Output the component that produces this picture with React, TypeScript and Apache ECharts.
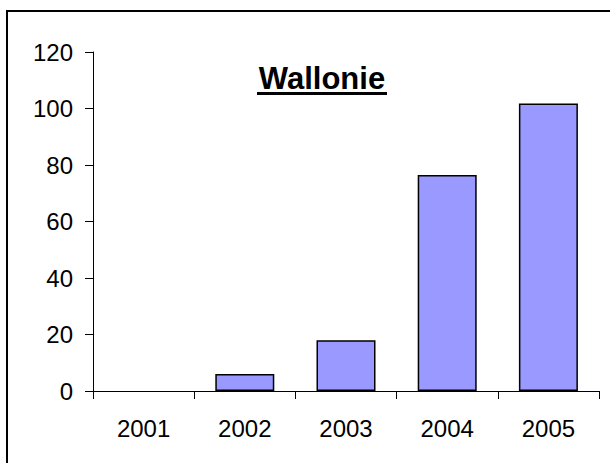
import React, { useEffect, useRef } from "react";
import * as echarts from "echarts";

const categories = ["2001", "2002", "2003", "2004", "2005"];
const values = [0, 6, 18, 76.5, 101.8];
const yTicks = { min: 0, max: 120, interval: 20 };
const titleText = "Wallonie";

export default function App() {
  const ref = useRef<HTMLDivElement>(null);
  useEffect(() => {
    if (!ref.current) return;
    const chart = echarts.init(ref.current, undefined, { renderer: "svg" });
    const font = "Arial, 'Liberation Sans', sans-serif";
    chart.setOption({
      animation: false,
      backgroundColor: "#ffffff",
      grid: { left: 93, right: 11, top: 52, bottom: 72, containLabel: false },
      xAxis: {
        type: "category",
        data: categories,
        axisLine: { lineStyle: { color: "#000", width: 1 } },
        axisTick: { show: true, length: 8, inside: false, lineStyle: { color: "#000" } },
        axisLabel: { color: "#000", fontSize: 24, fontFamily: font, margin: 25 },
        splitLine: { show: false },
      },
      yAxis: {
        type: "value",
        min: yTicks.min,
        max: yTicks.max,
        interval: yTicks.interval,
        axisLine: { show: true, lineStyle: { color: "#000", width: 1 } },
        axisTick: { show: true, length: 8, lineStyle: { color: "#000" } },
        axisLabel: { color: "#000", fontSize: 24, fontFamily: font, margin: 20 },
        splitLine: { show: false },
      },
      series: [
        {
          type: "bar",
          data: values.map((v) => ({
            value: v,
            itemStyle: v === 0 ? { borderWidth: 0 } : undefined,
          })),
          barWidth: 59,
          itemStyle: { color: "#9999FF", borderColor: "#000", borderWidth: 1.5 },
        },
      ],
      graphic: [
        {
          type: "rect",
          shape: { x: 7, y: 11, width: 800, height: 600 },
          style: { fill: "none", stroke: "#000", lineWidth: 2 },
          silent: true,
        },
        {
          type: "text",
          x: 322,
          y: 78,
          style: {
            text: titleText,
            font: `bold 31px ${font}`,
            fill: "#000",
            textAlign: "center",
            textVerticalAlign: "middle",
          },
        },
        {
          type: "rect",
          shape: { x: 257, y: 92, width: 130, height: 3 },
          style: { fill: "#000" },
          silent: true,
        },
      ],
    });
    return () => chart.dispose();
  }, []);
  return (
    <div
      ref={ref}
      style={{ position: "absolute", left: 0, top: 0, width: 610, height: 463 }}
    />
  );
}
